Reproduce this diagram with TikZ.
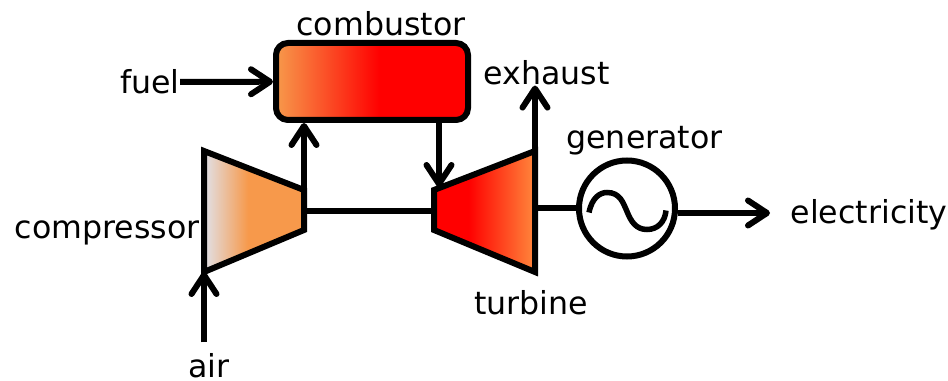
\documentclass[tikz,border=0pt]{standalone}
\usepackage{fontspec}
\setmainfont{DejaVu Sans}
\usetikzlibrary{arrows.meta}
\definecolor{airgray}{RGB}{225, 225, 232}
\definecolor{warmorange}{RGB}{247, 153, 75}
\definecolor{hotorange}{RGB}{255, 135, 60}
\definecolor{flamered}{RGB}{255, 0, 0}
\pgfdeclarehorizontalshading{compressorshade}{100bp}{color(0bp)=(airgray); color(25bp)=(airgray); color(47bp)=(warmorange); color(100bp)=(warmorange)}
\pgfdeclarehorizontalshading{combustorshade}{100bp}{color(0bp)=(warmorange); color(25bp)=(warmorange); color(52bp)=(flamered); color(100bp)=(flamered)}
\pgfdeclarehorizontalshading{turbineshade}{100bp}{color(0bp)=(flamered); color(42bp)=(flamered); color(75bp)=(hotorange); color(100bp)=(hotorange)}
\tikzset{
    part/.style={draw, line width=0.12cm},
    flow/.style={line width=0.12cm, -{Straight Barb[length=0.38cm, width=0.50cm, round]}},
    shaft/.style={line width=0.12cm},
    tag/.style={font=\fontsize{18}{22}\selectfont},
}

\begin{document}
\begin{tikzpicture}
            \useasboundingbox (0.00, 0.00) rectangle (18.96, 7.62);
            % Corners of compressor & turbine
            \coordinate (comp1) at ( 4.08, 4.60);
            \coordinate (comp2) at ( 6.08, 3.82);
            \coordinate (comp3) at ( 6.08, 3.02);
            \coordinate (comp4) at ( 4.08, 2.18);
            \coordinate (turb1) at ( 8.68, 3.82);
            \coordinate (turb2) at (10.70, 4.60);
            \coordinate (turb3) at (10.70, 2.18);
            \coordinate (turb4) at ( 8.68, 3.02);
            \coordinate (shaft) at ( 6.08, 3.40);
            \coordinate (grid)  at (15.40, 3.36);
            % Labels
            \node[tag]                    (combustorlabel)  at ( 7.62, 7.14) {combustor};
            \node[tag, inner xsep=0pt]    (fuel)            at ( 3.00, 5.98) {fuel};
            \node[tag, inner ysep=0pt]    (exhaust)         at (10.93, 6.16) {exhaust};
            \node[tag]                    (generatorlabel)  at (12.89, 4.80) {generator};
            \node[tag]                    (compressorlabel) at ( 2.14, 2.96) {compressor};
            \node[tag]                    (turbinelabel)    at (10.62, 1.56) {turbine};
            \node[tag, inner ysep=0pt]    (air)             at ( 4.18, 0.31) {air};
            \node[tag]                    (electricity)     at (17.38, 3.33) {electricity};
            % Combustor
            \node[part, shading=combustorshade, rounded corners=0.24cm,
                  minimum width=3.84cm, minimum height=1.54cm] (combustor) at (7.44, 5.99) {};
            % Compressor
            \draw[part, shading=compressorshade] (comp1) -- (comp2) -- (comp3) -- (comp4) -- cycle;
            % Turbine
            \draw[part, shading=turbineshade]    (turb1) -- (turb2) -- (turb3) -- (turb4) -- cycle;
            % Generator
            \node[part, circle, minimum size=1.92cm, inner sep=0pt] (generator) at (12.54, 3.45) {};
            \draw[line width=0.11cm, shift={(generator.center)}]
                 (-0.76,-0.08) .. controls (-0.70, 0.22) and (-0.54, 0.32) .. (-0.40, 0.32)
                               .. controls (-0.14, 0.32) and (-0.08, 0.12) .. ( 0.00,-0.06)
                               .. controls ( 0.08,-0.26) and ( 0.18,-0.42) .. ( 0.40,-0.42)
                               .. controls ( 0.62,-0.42) and ( 0.76,-0.26) .. ( 0.78,-0.04);
            % Flows
            \draw[flow]  (fuel) -- (combustor);
            \draw[flow]  ([yshift=0.21cm]air.north -| comp4) -- (comp4);
            \draw[flow]  (comp2) -- (combustor.south -| comp2);
            \draw[flow]  (combustor.south -| 8.78, 0) -- (8.78, 3.88);
            \draw[flow]  (turb2) -- (exhaust.south -| turb2);
            \draw[flow]  (generator.east |- grid) -- (grid);
            % Shafts
            \draw[shaft] (shaft) -- (shaft -| turb1);
            \draw[shaft] (turb2 |- generator) -- (generator);
        \end{tikzpicture}
\end{document}
